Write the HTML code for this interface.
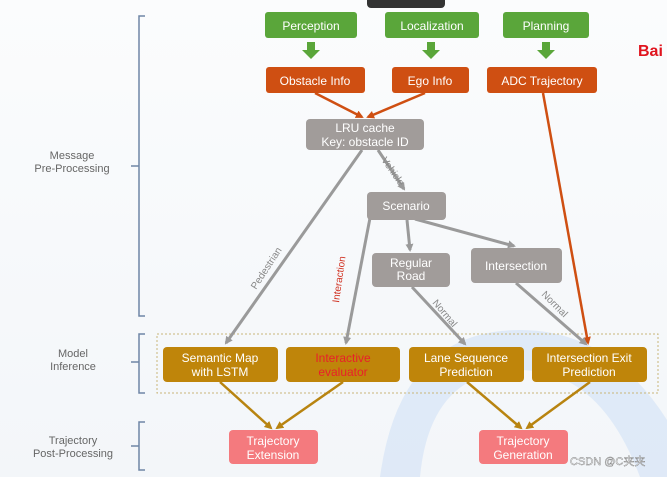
<!DOCTYPE html>
<html><head><meta charset="utf-8"><style>
body{margin:0;width:667px;height:477px;overflow:hidden;background:linear-gradient(#fbfcfd,#f3f6f9);}
svg{display:block;font-family:"Liberation Sans",sans-serif;}
</style></head><body>
<svg width="667" height="477" viewBox="0 0 667 477">
<defs>
<marker id="ag" markerWidth="8" markerHeight="8" refX="6" refY="4" orient="auto" markerUnits="userSpaceOnUse"><path d="M0,0 L8,4 L0,8 Z" fill="#9a9a9a"/></marker>
<marker id="ao" markerWidth="8" markerHeight="8" refX="6" refY="4" orient="auto" markerUnits="userSpaceOnUse"><path d="M0,0 L8,4 L0,8 Z" fill="#cf4f12"/></marker>
<marker id="ab" markerWidth="8" markerHeight="8" refX="6" refY="4" orient="auto" markerUnits="userSpaceOnUse"><path d="M0,0 L8,4 L0,8 Z" fill="#b88410"/></marker>
</defs>
<path d="M380,477 Q400,330 520,330 Q610,330 667,420 L667,477 L640,477 Q600,370 520,370 Q430,370 420,477 Z" fill="#d6e4f6" opacity="0.7"/>
<rect x="367" y="-6" width="78" height="14" rx="4" fill="#333"/>
<text x="638" y="56" font-size="16" font-weight="bold" fill="#e0141e">Bai</text>
<g stroke="#6f86a6" stroke-width="1.5" fill="none">
<path d="M145,16 L139,16 L139,316 L145,316 M139,166 L131,166"/>
<path d="M145,334 L139,334 L139,393 L145,393 M139,362 L131,362"/>
<path d="M145,422 L139,422 L139,470 L145,470 M139,446 L131,446"/>
</g>
<g font-size="11" fill="#666" text-anchor="middle">
<text x="72" y="159">Message</text><text x="72" y="172">Pre-Processing</text>
<text x="73" y="357">Model</text><text x="73" y="370">Inference</text>
<text x="73" y="444">Trajectory</text><text x="73" y="457">Post-Processing</text>
</g>
<rect x="157" y="334" width="501" height="59" fill="none" stroke="#c9b679" stroke-dasharray="2,2"/>
<g fill="#5aa63a">
<path d="M307,42 h8 v8 h5 l-9,9 l-9,-9 h5z"/>
<path d="M427,42 h8 v8 h5 l-9,9 l-9,-9 h5z"/>
<path d="M542,42 h8 v8 h5 l-9,9 l-9,-9 h5z"/>
</g>
<g stroke="#cf4f12" stroke-width="2.5" fill="none">
<line x1="315" y1="93" x2="362" y2="117" marker-end="url(#ao)"/>
<line x1="425" y1="93" x2="368" y2="117" marker-end="url(#ao)"/>
<line x1="543" y1="93" x2="588" y2="343" marker-end="url(#ao)"/>
</g>
<g stroke="#9a9a9a" stroke-width="3" fill="none">
<line x1="362" y1="150" x2="226" y2="343" marker-end="url(#ag)"/>
<line x1="378" y1="150" x2="404" y2="189" marker-end="url(#ag)"/>
<line x1="370" y1="218" x2="346" y2="343" marker-end="url(#ag)"/>
<line x1="407" y1="220" x2="410" y2="250" marker-end="url(#ag)"/>
<line x1="415" y1="219" x2="514" y2="246" marker-end="url(#ag)"/>
<line x1="412" y1="287" x2="465" y2="344" marker-end="url(#ag)"/>
<line x1="516" y1="283" x2="586" y2="344" marker-end="url(#ag)"/>
</g>
<g stroke="#b88410" stroke-width="2.5" fill="none">
<line x1="220" y1="382" x2="271" y2="428" marker-end="url(#ab)"/>
<line x1="343" y1="382" x2="277" y2="428" marker-end="url(#ab)"/>
<line x1="467" y1="382" x2="521" y2="428" marker-end="url(#ab)"/>
<line x1="590" y1="382" x2="527" y2="428" marker-end="url(#ab)"/>
</g>
<g font-size="10" fill="#888">
<text transform="translate(256,290) rotate(-57)">Pedestrian</text>
<text transform="translate(381,160) rotate(55)">Vehicle</text>
<text transform="translate(432,303) rotate(50)">Normal</text>
<text transform="translate(541,295) rotate(45)">Normal</text>
<text transform="translate(339,303) rotate(-82)" fill="#d03020">Interaction</text>
</g>
<g font-size="12" text-anchor="middle" fill="#fff">
<rect x="265" y="12" width="92" height="26" rx="3" fill="#5aa63a"/><text x="311" y="30">Perception</text>
<rect x="385" y="12" width="94" height="26" rx="3" fill="#5aa63a"/><text x="432" y="30">Localization</text>
<rect x="503" y="12" width="86" height="26" rx="3" fill="#5aa63a"/><text x="546" y="30">Planning</text>
<rect x="266" y="67" width="99" height="26" rx="3" fill="#cf4f12"/><text x="315" y="85">Obstacle Info</text>
<rect x="392" y="67" width="77" height="26" rx="3" fill="#cf4f12"/><text x="430" y="85">Ego Info</text>
<rect x="487" y="67" width="110" height="26" rx="3" fill="#cf4f12"/><text x="542" y="85">ADC Trajectory</text>
<rect x="306" y="119" width="118" height="31" rx="4" fill="#a19c9a"/><text x="365" y="132">LRU cache</text><text x="365" y="146">Key: obstacle ID</text>
<rect x="367" y="192" width="79" height="28" rx="4" fill="#a19c9a"/><text x="406" y="210">Scenario</text>
<rect x="372" y="253" width="78" height="34" rx="4" fill="#a19c9a"/><text x="411" y="267">Regular</text><text x="411" y="280">Road</text>
<rect x="471" y="248" width="91" height="35" rx="4" fill="#a19c9a"/><text x="516" y="270">Intersection</text>
<rect x="163" y="347" width="115" height="35" rx="4" fill="#bf850a"/><text x="220" y="362">Semantic Map</text><text x="220" y="376">with LSTM</text>
<rect x="286" y="347" width="114" height="35" rx="4" fill="#bf850a"/><text x="343" y="362" fill="#e8202a">Interactive</text><text x="343" y="376" fill="#e8202a">evaluator</text>
<rect x="409" y="347" width="115" height="35" rx="4" fill="#bf850a"/><text x="466" y="362">Lane Sequence</text><text x="466" y="376">Prediction</text>
<rect x="532" y="347" width="115" height="35" rx="4" fill="#bf850a"/><text x="589" y="362">Intersection Exit</text><text x="589" y="376">Prediction</text>
<rect x="229" y="430" width="89" height="34" rx="4" fill="#f47a7e"/><text x="273" y="445">Trajectory</text><text x="273" y="459">Extension</text>
<rect x="479" y="430" width="89" height="34" rx="4" fill="#f47a7e"/><text x="523" y="445">Trajectory</text><text x="523" y="459">Generation</text>
</g>
<text x="570" y="465" font-size="11" fill="#fff" font-family="Liberation Sans,Noto Sans CJK SC,sans-serif" stroke="#777" stroke-width="0.4">CSDN @C夹夹</text>
</svg>
</body></html>
